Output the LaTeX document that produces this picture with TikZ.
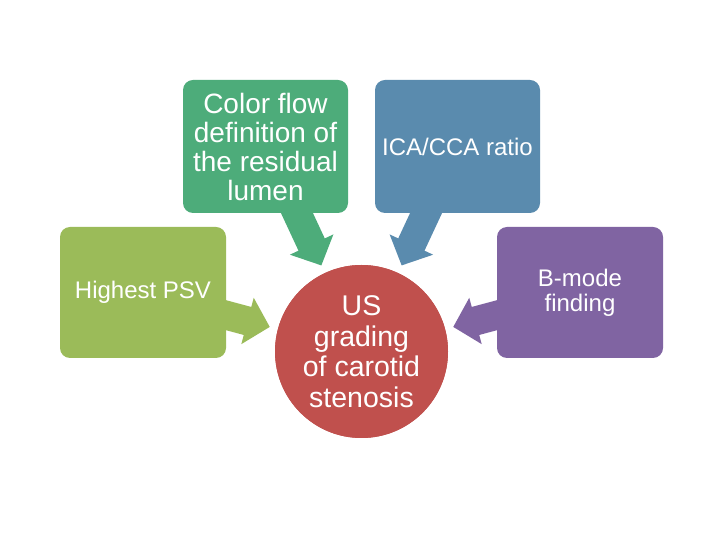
\documentclass[tikz,border=0pt]{standalone}
\usepackage{fontspec}
\setmainfont{Liberation Sans}
\usetikzlibrary{calc}
\definecolor{cgreen}{RGB}{155,187,89}
\definecolor{cteal}{RGB}{77,172,122}
\definecolor{cblue}{RGB}{90,139,174}
\definecolor{cpurple}{RGB}{128,100,162}
\definecolor{cred}{RGB}{192,80,77}
\newcommand\blockarr[2]{%
  \fill[#1] ($(us.center)+(#2:95)$)
    -- ($(us.center)+(#2:118)+(#2+90:24)$)
    -- ($(us.center)+(#2:118)+(#2+90:14.5)$)
    -- ($(us.center)+(#2:175)+(#2+90:14.5)$)
    -- ($(us.center)+(#2:175)+(#2-90:14.5)$)
    -- ($(us.center)+(#2:118)+(#2-90:14.5)$)
    -- ($(us.center)+(#2:118)+(#2-90:24)$) -- cycle;}
\begin{document}
\begin{tikzpicture}[x=1pt,y=1pt,
  box/.style={rounded corners=10pt, minimum width=165pt, minimum height=132pt,
    text=white, align=center, inner sep=0pt},
  small/.style={font=\fontsize{24}{25}\selectfont},
  big/.style={font=\fontsize{28}{29}\selectfont}]
\useasboundingbox[fill=white] (0,0) rectangle (728,546);
\node[circle, fill=cred, minimum size=173pt, inner sep=0pt] (us) at (361.5,194.5) {};
\blockarr{cgreen}{165}
\blockarr{cteal}{115}
\blockarr{cblue}{65}
\blockarr{cpurple}{15}
\node[circle, fill=cred, minimum size=173pt, inner sep=0pt, text=white, align=center,
  font=\fontsize{28.5}{30.5}\selectfont] at (us.center) {US\\grading\\of carotid\\stenosis};
\node[box, small, fill=cgreen, minimum width=166pt, minimum height=131pt] (psv) at (143,253.5) {Highest PSV};
\node[box, big, fill=cteal, minimum height=133pt] (cf) at (265.5,399.5) {Color flow\\definition of\\the residual\\lumen};
\node[box, small, fill=cblue, minimum height=133pt] (ica) at (457.5,399.5) {ICA/CCA ratio};
\node[box, small, fill=cpurple, minimum width=166pt, minimum height=131pt] (bm) at (580,253.5) {B-mode\\finding};
\end{tikzpicture}
\end{document}
